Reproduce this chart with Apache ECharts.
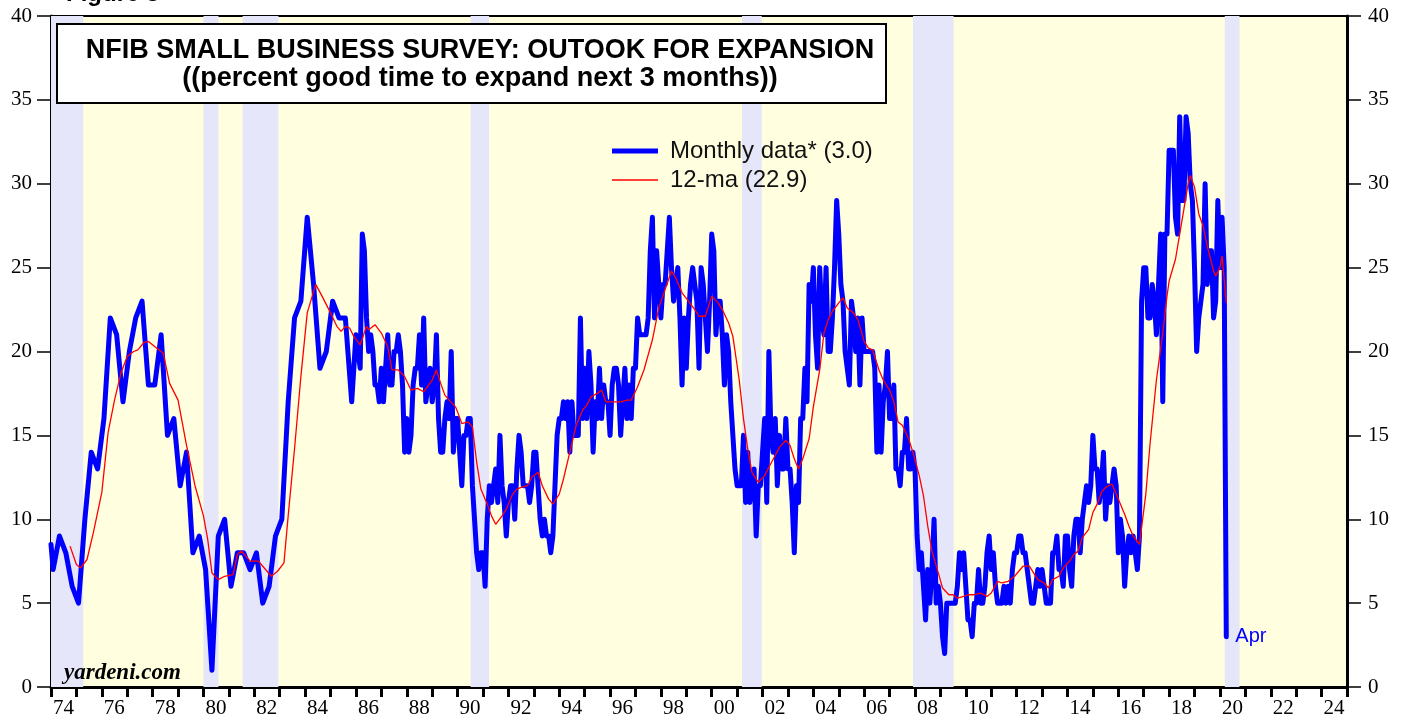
<!DOCTYPE html>
<html>
<head>
<meta charset="utf-8">
<script src="https://cdn.jsdelivr.net/npm/echarts@6/dist/echarts.min.js"></script>
<style>
  html, body { margin: 0; padding: 0; background: #fff; }
  #chart { width: 1408px; height: 719px; }
</style>
</head>
<body>
<div id="chart"></div>
<script>
// value where the line enters the plot at the left edge
const edgeStart = ['1974-01', 8.5];

// survey was quarterly until 1985 (Feb/May/Aug/Nov), monthly from Jan 1986
const quarterlyFirst = '1974-02';
const quarterlyVals = [
  7, 9, 8, 6,
  5, 10, 14, 13,
  16, 22, 21, 17,
  20, 22, 23, 18,
  18, 21, 15, 16,
  12, 14, 8, 9,
  7, 1, 9, 10,
  6, 8, 8, 7,
  8, 5, 6, 9,
  10, 17, 22, 23,
  28, 24, 19, 20,
  23, 22, 22, 17
];

const monthlyFirst = '1986-01';
const monthlyVals = [
  21, 20, 19, 27, 26, 22, 20, 21, 20, 18, 18, 17,   // 1986
  19, 17, 19, 21, 18, 18, 20, 20, 21, 20, 18, 14,   // 1987
  16, 14, 15, 18, 19, 19, 21, 18, 22, 17, 18, 19,   // 1988
  17, 18, 21, 16, 14, 14, 16, 17, 16, 20, 14, 16,   // 1989
  16, 14, 12, 15, 15, 16, 16, 12, 10, 8, 7, 8,      // 1990
  8, 6, 10, 12, 11, 12, 13, 11, 15, 12, 11, 9,      // 1991
  11, 12, 12, 10, 13, 15, 14, 12, 12, 12, 11, 12,   // 1992
  14, 14, 12, 10, 9, 10, 9, 9, 8, 9, 12, 15,        // 1993
  16, 16, 17, 16, 17, 14, 17, 15, 15, 15, 22, 16,   // 1994
  19, 16, 20, 18, 14, 17, 16, 19, 16, 18, 17, 17,   // 1995
  15, 18, 19, 19, 18, 15, 17, 19, 16, 18, 16, 19,   // 1996
  19, 22, 21, 21, 21, 21, 22, 26, 28, 22, 26, 24,   // 1997
  22, 24, 24, 26, 28, 25, 23, 24, 25, 22, 18, 22,   // 1998
  19, 22, 24, 25, 24, 23, 19, 25, 24, 22, 20, 23,   // 1999
  27, 26, 21, 23, 23, 21, 18, 21, 20, 17, 15, 13,   // 2000
  12, 12, 12, 15, 11, 14, 11, 12, 13, 9, 12, 12,    // 2001
  14, 16, 11, 20, 15, 14, 16, 12, 15, 13, 13, 16,   // 2002
  13, 13, 11, 8, 12, 11, 16, 16, 19, 17, 24, 23,    // 2003
  25, 21, 19, 25, 22, 21, 25, 20, 20, 22, 25, 29,   // 2004
  27, 24, 23, 20, 19, 18, 23, 22, 20, 22, 18, 22,   // 2005
  20, 20, 20, 20, 20, 19, 14, 18, 14, 17, 18, 20,   // 2006
  16, 16, 18, 13, 13, 12, 14, 14, 16, 13, 13, 14,   // 2007
  13, 9, 7, 8, 6, 4, 7, 5, 7, 10, 5, 6,             // 2008
  5, 3, 2, 5, 5, 5, 5, 5, 6, 8, 7, 8,               // 2009
  6, 4, 4, 3, 5, 5, 7, 5, 5, 6, 8, 9,               // 2010
  7, 8, 6, 5, 5, 5, 6, 5, 6, 5, 7, 8,               // 2011
  8, 9, 9, 8, 8, 7, 6, 5, 5, 6, 7, 6,               // 2012
  7, 6, 5, 5, 5, 8, 8, 9, 7, 7, 6, 9,               // 2013
  9, 7, 6, 9, 10, 10, 8, 10, 11, 12, 11, 12,        // 2014
  15, 13, 13, 11, 12, 14, 10, 12, 11, 12, 13, 12,   // 2015
  8, 10, 9, 6, 8, 9, 8, 9, 8, 7, 9, 23,             // 2016
  25, 25, 22, 22, 24, 23, 21, 24, 27, 17, 27, 27,   // 2017
  32, 32, 32, 28, 27, 34, 29, 29, 34, 33, 30, 29,   // 2018
  25, 20, 22, 23, 24, 30, 24, 26, 26, 22, 23, 29,   // 2019
  25, 28, 25, 3                                     // 2020
];

// 12-month average
const maPoints = [
  ['1974-10', 8.4], ['1975-01', 7.3], ['1975-03', 7.1], ['1975-06', 7.6], ['1975-09', 9.2],
  ['1976-01', 11.6], ['1976-04', 15.2], ['1976-07', 17.1], ['1976-10', 18.7], ['1977-01', 19.7],
  ['1977-04', 20.0], ['1977-06', 20.1], ['1977-09', 20.55], ['1977-11', 20.6], ['1978-03', 20.2],
  ['1978-06', 19.9], ['1978-09', 18.1], ['1979-01', 17.1], ['1979-05', 14.4], ['1979-09', 12.0],
  ['1980-01', 10.2], ['1980-03', 8.8], ['1980-05', 6.8], ['1980-08', 6.4], ['1980-11', 6.6],
  ['1981-03', 6.7], ['1981-05', 7.9], ['1981-07', 8.1], ['1981-11', 7.5], ['1982-03', 7.5],
  ['1982-05', 7.2], ['1982-09', 6.6], ['1982-12', 6.9], ['1983-03', 7.4], ['1983-05', 10.2],
  ['1983-08', 14.2], ['1983-11', 18.5], ['1984-02', 22.3], ['1984-06', 24.0], ['1984-09', 23.3],
  ['1985-01', 22.3], ['1985-04', 21.5], ['1985-06', 21.2], ['1985-08', 21.5], ['1985-10', 21.4],
  ['1985-12', 20.9], ['1986-03', 20.4], ['1986-06', 21.5], ['1986-07', 21.3], ['1986-10', 21.6],
  ['1987-01', 21.1], ['1987-04', 20.3], ['1987-06', 18.9], ['1987-09', 18.9], ['1987-12', 18.5],
  ['1988-03', 17.7], ['1988-06', 17.8], ['1988-09', 17.6], ['1989-01', 18.3], ['1989-03', 18.9],
  ['1989-05', 18.1], ['1989-07', 17.4], ['1989-09', 17.1], ['1989-12', 16.7], ['1990-01', 16.4],
  ['1990-03', 15.7], ['1990-06', 15.8], ['1990-08', 15.5], ['1990-10', 13.4], ['1990-12', 11.8],
  ['1991-03', 10.9], ['1991-05', 10.2], ['1991-07', 9.7], ['1991-10', 10.2], ['1991-12', 10.6],
  ['1992-03', 11.5], ['1992-05', 11.8], ['1992-07', 11.9], ['1992-10', 12.0], ['1992-12', 12.5],
  ['1993-03', 12.8], ['1993-05', 12.0], ['1993-08', 11.2], ['1993-10', 10.9], ['1994-01', 11.5],
  ['1994-03', 12.4], ['1994-06', 14.0], ['1994-09', 15.6], ['1994-12', 16.5], ['1995-02', 16.8],
  ['1995-04', 17.3], ['1995-07', 17.5], ['1995-09', 17.7], ['1995-11', 17.0], ['1996-03', 17.0],
  ['1996-06', 17.0], ['1996-09', 17.1], ['1996-11', 17.1], ['1997-02', 17.9], ['1997-05', 18.9],
  ['1997-09', 20.7], ['1997-12', 22.6], ['1998-03', 23.7], ['1998-06', 24.8], ['1998-08', 24.4],
  ['1998-11', 23.5], ['1999-02', 23.0], ['1999-05', 22.5], ['1999-07', 22.1], ['1999-10', 22.1],
  ['2000-01', 23.3], ['2000-04', 22.9], ['2000-06', 22.5], ['2000-09', 21.7], ['2000-11', 20.9],
  ['2001-02', 18.3], ['2001-04', 16.0], ['2001-06', 14.2], ['2001-08', 12.8], ['2001-11', 12.2],
  ['2002-02', 12.6], ['2002-04', 13.1], ['2002-07', 13.8], ['2002-09', 14.3], ['2002-12', 14.7],
  ['2003-02', 14.4], ['2003-04', 13.6], ['2003-06', 13.0], ['2003-08', 13.6], ['2003-11', 14.8],
  ['2004-01', 16.7], ['2004-04', 18.9], ['2004-06', 21.1], ['2004-08', 21.9], ['2004-10', 22.4],
  ['2005-01', 22.9], ['2005-03', 23.2], ['2005-05', 22.6], ['2005-08', 22.3], ['2005-10', 21.9],
  ['2006-01', 20.6], ['2006-03', 20.2], ['2006-05', 20.1], ['2006-08', 18.9], ['2006-10', 18.3],
  ['2007-01', 17.7], ['2007-03', 17.0], ['2007-05', 15.8], ['2007-07', 15.6], ['2007-10', 14.8],
  ['2007-12', 14.0], ['2008-03', 12.6], ['2008-05', 11.4], ['2008-07', 9.6], ['2008-09', 8.1],
  ['2008-12', 6.8], ['2009-02', 5.9], ['2009-05', 5.5], ['2009-07', 5.5], ['2009-09', 5.3],
  ['2009-12', 5.4], ['2010-02', 5.5], ['2010-05', 5.5], ['2010-08', 5.6], ['2010-11', 5.4],
  ['2011-01', 5.6], ['2011-04', 6.3], ['2011-06', 6.2], ['2011-09', 6.3], ['2011-12', 6.6],
  ['2012-04', 7.2], ['2012-07', 7.2], ['2012-09', 6.8], ['2012-11', 6.4], ['2013-02', 6.2],
  ['2013-04', 5.9], ['2013-06', 6.4], ['2013-09', 6.6], ['2013-11', 7.1], ['2014-02', 7.5],
  ['2014-04', 7.9], ['2014-06', 8.1], ['2014-08', 8.9], ['2014-11', 9.4], ['2015-01', 10.4],
  ['2015-03', 10.9], ['2015-05', 11.6], ['2015-07', 11.9], ['2015-10', 12.1], ['2016-01', 11.2],
  ['2016-04', 10.3], ['2016-06', 9.6], ['2016-08', 9.0], ['2016-11', 8.5], ['2017-02', 11.5],
  ['2017-04', 14.5], ['2017-07', 18.3], ['2017-10', 21.1], ['2017-12', 23.3], ['2018-01', 24.2],
  ['2018-04', 25.5], ['2018-06', 27.0], ['2018-08', 28.5], ['2018-10', 30.0], ['2018-11', 30.5],
  ['2019-01', 29.8], ['2019-03', 28.2], ['2019-05', 27.5], ['2019-07', 26.3], ['2019-10', 24.8],
  ['2019-11', 24.5], ['2020-01', 25.0], ['2020-02', 25.7], ['2020-04', 22.9]
];

// recessions (decimal years)
const recessionStart = [1974.0, 1980.0, 1981.54, 1990.51, 2001.19, 2007.92, 2020.19];
const recessionEnd   = [1975.27, 1980.59, 1982.95, 1991.24, 2001.97, 2009.52, 2020.77];

const seriesNames = ['Monthly data* (3.0)', '12-ma (22.9)'];

function toYear(ym) {
  const [y, m] = ym.split('-').map(Number);
  return y + (m - 1) / 12;
}

const qStart = toYear(quarterlyFirst);
const mStart = toYear(monthlyFirst);
const monthlyData = [[toYear(edgeStart[0]), edgeStart[1]]]
  .concat(quarterlyVals.map((v, i) => [qStart + i * 3 / 12, v]))
  .concat(monthlyVals.map((v, i) => [mStart + i / 12, v]));
const maData = maPoints.map(p => [toYear(p[0]), p[1]]);
const bands = recessionStart.map((s, i) => [{ xAxis: s }, { xAxis: recessionEnd[i] }]);

const serif = '"Liberation Serif", "Times New Roman", serif';
const sans = '"Liberation Sans", Arial, sans-serif';

const yAxisBase = {
  type: 'value',
  min: 0,
  max: 40,
  interval: 5,
  splitLine: { show: false },
  axisLine: { show: true, lineStyle: { color: '#000', width: 3 } },
  axisTick: { show: true, length: 14, lineStyle: { color: '#000', width: 1.5 } },
  axisLabel: { fontFamily: serif, fontSize: 21, color: '#000' }
};

const legendBase = {
  orient: 'vertical',
  left: 612,
  padding: 0,
  icon: 'rect',
  itemWidth: 46,
  textStyle: { fontFamily: sans, fontSize: 24, color: '#111', lineHeight: 26, padding: [0, 0, 0, 7] }
};

const chart = echarts.init(document.getElementById('chart'));
chart.setOption({
  animation: false,
  grid: {
    left: 51, right: 61, top: 16, bottom: 31,
    show: true,
    backgroundColor: '#ffffe0',
    borderColor: '#000',
    borderWidth: 2
  },
  xAxis: {
    type: 'value',
    min: 1974,
    max: 2025,
    interval: 1,
    splitLine: { show: false },
    axisLine: { lineStyle: { color: '#000', width: 3 } },
    axisTick: { length: 10, lineStyle: { color: '#000', width: 3 } },
    axisLabel: {
      fontFamily: serif, fontSize: 21, color: '#000',
      align: 'left', margin: 11, padding: [0, 0, 0, 2],
      formatter: v => (v % 2 === 0 && v < 2025) ? String(v).slice(2) : ''
    }
  },
  yAxis: [
    Object.assign({}, yAxisBase, { position: 'left', axisLabel: Object.assign({}, yAxisBase.axisLabel, { margin: 19 }) }),
    Object.assign({}, yAxisBase, { position: 'right', axisLabel: Object.assign({}, yAxisBase.axisLabel, { margin: 21 }) })
  ],
  legend: [
    Object.assign({}, legendBase, { data: [seriesNames[0]], top: 138, itemHeight: 5 }),
    Object.assign({}, legendBase, { data: [seriesNames[1]], top: 167, itemHeight: 1.5 })
  ],
  graphic: [
    {
      type: 'text', left: 66, top: -18,
      style: { text: 'Figure 3', font: 'bold 24px ' + sans, fill: '#000' }
    },
    {
      type: 'rect', shape: { x: 57, y: 24, width: 829, height: 79 },
      style: { fill: '#fff', stroke: '#000', lineWidth: 2 }, z: 10
    },
    {
      type: 'text', x: 480, y: 51, z: 11,
      style: {
        text: 'NFIB SMALL BUSINESS SURVEY: OUTOOK FOR EXPANSION',
        font: 'bold 27px ' + sans, fill: '#000', align: 'center', verticalAlign: 'middle'
      }
    },
    {
      type: 'text', x: 480, y: 79, z: 11,
      style: {
        text: '((percent good time to expand next 3 months))',
        font: 'bold 27px ' + sans, fill: '#000', align: 'center', verticalAlign: 'middle'
      }
    },
    {
      type: 'text', x: 64, y: 673, z: 11,
      style: {
        text: 'yardeni.com',
        font: 'italic bold 23px ' + serif, fill: '#000', verticalAlign: 'middle'
      }
    }
  ],
  series: [
    {
      name: 'recessions',
      type: 'line',
      data: [],
      z: 1,
      silent: true,
      markArea: { silent: true, itemStyle: { color: '#e6e6fa' }, data: bands }
    },
    {
      name: seriesNames[0],
      type: 'line',
      data: monthlyData,
      z: 3,
      symbol: 'none',
      color: '#0000ff',
      lineStyle: { color: '#0000ff', width: 5, join: 'round', cap: 'round' },
      endLabel: {
        show: true, formatter: 'Apr', color: '#0000ff',
        fontFamily: sans, fontSize: 20, distance: 9
      }
    },
    {
      name: seriesNames[1],
      type: 'line',
      data: maData,
      z: 4,
      symbol: 'none',
      color: '#ff0000',
      lineStyle: { color: '#ff0000', width: 1.3 }
    }
  ]
});
</script>
</body>
</html>
